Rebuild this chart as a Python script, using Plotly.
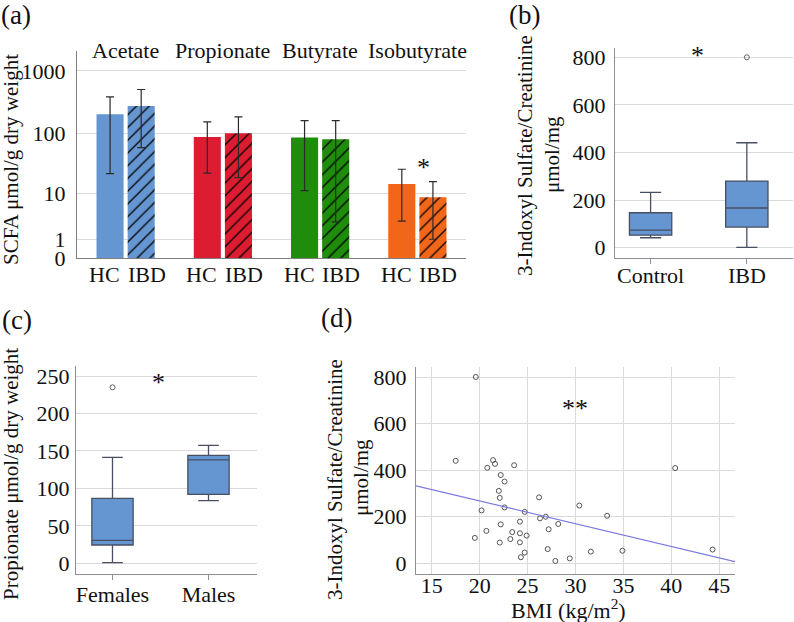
import numpy as np
import plotly.graph_objects as go

W, H = 794, 622
FONT = "Liberation Serif"
TXT = "#111111"

# ---------------- data ----------------
# Panel (a): SCFA (mean with error range), log(x+1)-style axis
acids = ["Acetate", "Propionate", "Butyrate", "Isobutyrate"]
acid_colors = ["#6596d1", "#db1c31", "#1f8c0c", "#f2661a"]
hc_mean = [202, 86, 85, 14.4]
hc_hi = [383, 152, 159, 25.5]
hc_lo = [21.5, 21.9, 11, 2.9]
ibd_mean = [274, 99, 79, 8.4]
ibd_hi = [503, 182, 159, 15.8]
ibd_lo = [58, 18.5, 2.8, 1.0]
a_ticks = [0, 1, 10, 100, 1000]

# Panel (b): 3-Indoxyl sulfate/creatinine by group
b_groups = ["Control", "IBD"]
b_q1 = [53, 87]
b_med = [74, 167]
b_q3 = [147, 280]
b_lo = [42, 2]
b_hi = [233, 441]
b_out_x = ["IBD"]
b_out_y = [800]
b_ticks = [0, 200, 400, 600, 800]

# Panel (c): Propionate by sex
c_groups = ["Females", "Males"]
c_q1 = [24.4, 92]
c_med = [30.7, 138]
c_q3 = [86.8, 144]
c_lo = [1, 83.6]
c_hi = [141.5, 157.5]
c_out_x = ["Females"]
c_out_y = [235]
c_ticks = [0, 50, 100, 150, 200, 250]

# Panel (d): BMI vs 3-Indoxyl sulfate/creatinine
bmi = [19.6, 17.5, 21.4, 21.6, 20.8, 23.6, 22.2, 22.6, 22.0, 22.1, 26.2, 22.6,
       20.2, 24.7, 26.3, 26.9, 28.2, 27.2, 22.2, 24.2, 20.7, 23.4, 24.2, 24.9,
       19.5, 23.2, 22.1, 24.2, 27.1, 24.7, 24.3, 27.9, 29.4, 30.4, 31.6, 33.3,
       34.9, 40.4, 44.3]
ind = [800, 440, 443, 427, 410, 421, 379, 351, 311, 281, 283, 240,
       227, 221, 193, 200, 169, 146, 167, 179, 139, 134, 129, 119,
       109, 104, 89, 90, 61, 46, 26, 10, 21, 248, 50, 204,
       54, 409, 59]
fit_intercept = 463.3
fit_slope = -9.78
d_xrange = [13.36, 46.64]
d_xticks = [15, 20, 25, 30, 35, 40, 45]
d_yticks = [0, 200, 400, 600, 800]


# ---------------- helpers ----------------
def xd(a, b):
    return [a / W, b / W]


def yd(top, bottom):
    return [1 - bottom / H, 1 - top / H]


def px(x):
    return x / W


def py(y):
    return 1 - y / H


def tr(v):
    return np.log10(np.asarray(v, dtype=float) + 1)


fig = go.Figure()

# ---------------- panel (a) ----------------
# one trace per bar so that each keeps a scalar colour (needed for black hatching)
for label, mean, hi, lo, patt in [("HC", hc_mean, hc_hi, hc_lo, ""),
                                  ("IBD", ibd_mean, ibd_hi, ibd_lo, "/")]:
    for i, acid in enumerate(acids):
        t = float(tr(mean[i]))
        fig.add_trace(go.Bar(
            x=[acid], y=[t], name=label, offsetgroup=label,
            xaxis="x", yaxis="y",
            marker=dict(color=acid_colors[i], line=dict(width=0),
                        pattern=dict(shape=patt, fillmode="overlay",
                                     fgcolor="#000000", fgopacity=1,
                                     size=9, solidity=0.14)),
            error_y=dict(type="data", symmetric=False,
                         array=[float(tr(hi[i])) - t],
                         arrayminus=[t - float(tr(lo[i]))],
                         color="#2a2a2a", thickness=1.2, width=4),
            showlegend=False))

# ---------------- panel (b) ----------------
BOX_FILL = "#6596d1"
BOX_LINE = "#474f62"
fig.add_trace(go.Box(
    x=b_groups, q1=b_q1, median=b_med, q3=b_q3,
    lowerfence=b_lo, upperfence=b_hi, xaxis="x2", yaxis="y2",
    fillcolor=BOX_FILL, line=dict(color=BOX_LINE, width=1.3),
    whiskerwidth=0.5, width=0.44, boxpoints=False, showlegend=False))
fig.add_trace(go.Scatter(
    x=b_out_x, y=b_out_y, mode="markers", xaxis="x2", yaxis="y2",
    marker=dict(symbol="circle-open", size=5, color="#666666", line=dict(width=1)),
    showlegend=False))

# ---------------- panel (c) ----------------
fig.add_trace(go.Box(
    x=c_groups, q1=c_q1, median=c_med, q3=c_q3,
    lowerfence=c_lo, upperfence=c_hi, xaxis="x3", yaxis="y3",
    fillcolor=BOX_FILL, line=dict(color=BOX_LINE, width=1.3),
    whiskerwidth=0.5, width=0.43, boxpoints=False, showlegend=False))
fig.add_trace(go.Scatter(
    x=c_out_x, y=c_out_y, mode="markers", xaxis="x3", yaxis="y3",
    marker=dict(symbol="circle-open", size=5, color="#666666", line=dict(width=1)),
    showlegend=False))

# ---------------- panel (d) ----------------
fig.add_trace(go.Scatter(
    x=bmi, y=ind, mode="markers", xaxis="x4", yaxis="y4",
    marker=dict(symbol="circle-open", size=5, color="#555555", line=dict(width=1)),
    showlegend=False))
fit_x = np.array(d_xrange)
fig.add_trace(go.Scatter(
    x=fit_x, y=fit_intercept + fit_slope * fit_x, mode="lines",
    xaxis="x4", yaxis="y4", line=dict(color="#7b7be0", width=1.2),
    showlegend=False))

GRID = "#dadade"
AX = "#8d8d9c"
FS = 22
tickfont = dict(family=FONT, size=FS, color=TXT)
NOTICK = "rgba(0,0,0,0)"

fig.update_layout(
    width=W, height=H, margin=dict(l=0, r=0, t=0, b=0, autoexpand=False),
    paper_bgcolor="white", plot_bgcolor="white", showlegend=False,
    font=dict(family=FONT, size=FS, color=TXT),
    barmode="group", bargap=0.36, bargroupgap=0.13,
    xaxis=dict(domain=xd(77, 466), anchor="y", type="category",
               categoryarray=acids, range=[-0.5, 3.5],
               showticklabels=False, ticks="",
               showline=True, linecolor="#7f7f7f", linewidth=1.3,
               showgrid=False, zeroline=False, automargin=False),
    yaxis=dict(domain=yd(51, 258), anchor="x", range=[0, 3.32],
               tickvals=tr(a_ticks), ticktext=[str(v) for v in a_ticks],
               tickfont=tickfont, showline=True, linecolor="#7f7f7f", linewidth=1.3,
               showgrid=True, gridcolor=GRID, gridwidth=1, zeroline=False,
               ticks="outside", ticklen=6, tickcolor=NOTICK, automargin=False),
    xaxis2=dict(domain=xd(615, 793), anchor="y2", type="category",
                categoryarray=b_groups, range=[-0.37, 1.48],
                tickfont=tickfont, showline=True, linecolor=AX, linewidth=1.3,
                showgrid=False, zeroline=False, ticks="outside", ticklen=5,
                tickcolor=AX, ticklabelstandoff=-8, automargin=False),
    yaxis2=dict(domain=yd(48, 258), anchor="x2", range=[-43, 839],
                tickvals=b_ticks, tickfont=tickfont, showline=True,
                linecolor=AX, linewidth=1.3, showgrid=True, gridcolor=GRID,
                zeroline=False, ticks="outside", ticklen=4, tickcolor=NOTICK,
                automargin=False),
    xaxis3=dict(domain=xd(76, 257), anchor="y3", type="category",
                categoryarray=c_groups, range=[-0.38, 1.505],
                tickfont=tickfont, showline=True, linecolor=AX, linewidth=1.3,
                showgrid=False, zeroline=False, ticks="outside", ticklen=5,
                tickcolor=AX, ticklabelstandoff=-5, automargin=False),
    yaxis3=dict(domain=yd(366, 574), anchor="x3", range=[-14.3, 263.4],
                tickvals=c_ticks, tickfont=tickfont, showline=True,
                linecolor=AX, linewidth=1.3, showgrid=True, gridcolor=GRID,
                zeroline=False, ticks="outside", ticklen=1, tickcolor=NOTICK,
                automargin=False),
    xaxis4=dict(domain=xd(416, 735), anchor="y4", range=d_xrange,
                tickvals=d_xticks, tickfont=tickfont, showline=True,
                linecolor=AX, linewidth=1.3, showgrid=True, gridcolor=GRID,
                zeroline=False, ticks="", ticklabelstandoff=-9, automargin=False),
    yaxis4=dict(domain=yd(367, 574), anchor="x4", range=[-46, 843],
                tickvals=d_yticks, tickfont=tickfont, showline=True,
                linecolor=AX, linewidth=1.3, showgrid=True, gridcolor=GRID,
                zeroline=False, ticks="outside", ticklen=4, tickcolor=NOTICK,
                automargin=False),
)

ann = []
TS = 21


def text_px(x, y, s, size=FS, angle=0):
    ann.append(dict(x=px(x), y=py(y), xref="paper", yref="paper", text=s,
                    showarrow=False, xanchor="center", yanchor="middle",
                    textangle=angle, font=dict(family=FONT, size=size, color=TXT)))


# panel letters
text_px(16, 15, "(a)", 27)
text_px(524, 15, "(b)", 27)
text_px(17, 320, "(c)", 27)
text_px(336, 318, "(d)", 27)

# panel (a) category names and group labels
for a in acids:
    ann.append(dict(x=a, y=py(51), xref="x", yref="paper", text=a,
                    showarrow=False, xanchor="center", yanchor="middle",
                    font=dict(family=FONT, size=FS, color=TXT)))
    for lab, sh in [("HC", -21), ("IBD", 21)]:
        ann.append(dict(x=a, y=py(274), xref="x", yref="paper", text=lab,
                        xshift=sh, showarrow=False, xanchor="center", yanchor="middle",
                        font=dict(family=FONT, size=FS, color=TXT)))

# axis titles
text_px(11, 160, "SCFA μmol/g dry weight", TS, -90)
text_px(525, 156, "3-Indoxyl Sulfate/Creatinine", TS, -90)
text_px(552, 155, "μmol/mg", TS, -90)
text_px(11, 474, "Propionate μmol/g dry weight", TS, -90)
text_px(335, 480, "3-Indoxyl Sulfate/Creatinine", TS, -90)
text_px(361, 478, "μmol/mg", TS, -90)
text_px(568, 609, "BMI (kg/m<sup>2</sup>)", FS)

# significance markers
text_px(423, 168, "*", 26)
text_px(697, 55, "*", 26)
text_px(158, 382, "*", 26)
text_px(575, 408, "**", 26)

fig.update_layout(annotations=ann)
fig.write_html(
    "out.html",
    config={"displayModeBar": False},
    post_script="document.body.style.margin='0px';document.body.style.padding='0px';"
                "document.body.style.overflow='hidden';")
